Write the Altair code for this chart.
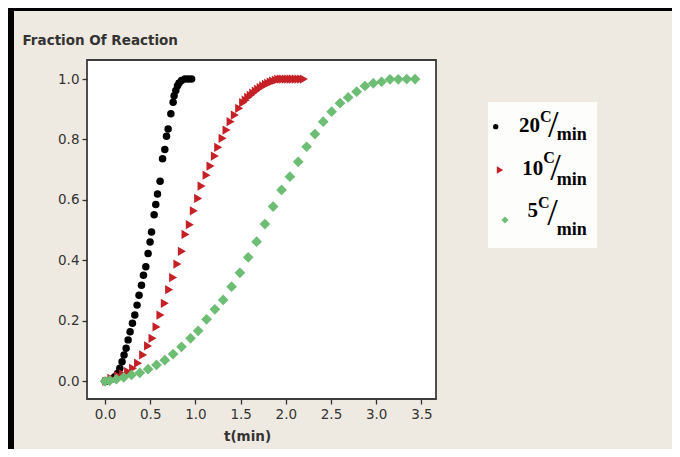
import altair as alt
import pandas as pd

# ---- data ----
t20 = [0.0, 0.01, 0.07, 0.107, 0.137, 0.163, 0.188, 0.21, 0.233, 0.255, 0.277, 0.303, 0.329,
       0.354, 0.376, 0.403, 0.425, 0.451, 0.476, 0.498, 0.514, 0.543, 0.561, 0.58, 0.609,
       0.636, 0.661, 0.68, 0.698, 0.728, 0.753, 0.764, 0.783, 0.802, 0.819, 0.846, 0.883,
       0.919, 0.957]
f20 = [0.0, 0.0, 0.007, 0.015, 0.026, 0.043, 0.065, 0.087, 0.109, 0.137, 0.164, 0.192, 0.219,
       0.252, 0.285, 0.318, 0.351, 0.379, 0.423, 0.461, 0.494, 0.551, 0.585, 0.62, 0.662,
       0.736, 0.767, 0.811, 0.835, 0.885, 0.923, 0.945, 0.962, 0.978, 0.987, 0.995, 1.0,
       1.0, 1.0]

t10 = [0.015, 0.07, 0.144, 0.2, 0.255, 0.31, 0.365, 0.421, 0.476, 0.525, 0.569, 0.613, 0.661,
       0.709, 0.753, 0.80, 0.85, 0.89, 0.938, 0.982, 1.03, 1.068, 1.123, 1.167, 1.215, 1.252,
       1.30, 1.344, 1.389, 1.436, 1.484, 1.528, 1.556, 1.584, 1.612, 1.639, 1.667, 1.694,
       1.722, 1.75, 1.78, 1.805, 1.833, 1.86, 1.89, 1.916, 1.945, 1.971, 2.0, 2.027, 2.055,
       2.08, 2.11, 2.14, 2.17, 2.2]
f10 = [0.0, 0.01, 0.018, 0.024, 0.032, 0.043, 0.06, 0.087, 0.117, 0.142, 0.18, 0.219, 0.258,
       0.303, 0.343, 0.388, 0.43, 0.486, 0.518, 0.564, 0.605, 0.646, 0.682, 0.712, 0.745,
       0.774, 0.804, 0.831, 0.859, 0.881, 0.903, 0.922, 0.93, 0.939, 0.946, 0.953, 0.96,
       0.966, 0.972, 0.977, 0.982, 0.986, 0.99, 0.993, 0.996, 0.999, 1.0, 1.0, 1.0, 1.0, 1.0,
       1.0, 1.0, 1.0, 1.0, 1.0]

t5 = [0.0, 0.052, 0.126, 0.207, 0.292, 0.384, 0.476, 0.569, 0.661, 0.753, 0.846, 0.946, 1.03,
      1.123, 1.215, 1.307, 1.40, 1.492, 1.584, 1.677, 1.769, 1.86, 1.953, 2.045, 2.137, 2.23,
      2.322, 2.414, 2.507, 2.6, 2.69, 2.784, 2.876, 2.968, 3.06, 3.153, 3.245, 3.338, 3.43]
f5 = [0.0, 0.002, 0.007, 0.013, 0.021, 0.028, 0.04, 0.054, 0.07, 0.09, 0.114, 0.142, 0.167,
      0.205, 0.238, 0.269, 0.313, 0.359, 0.41, 0.462, 0.52, 0.578, 0.633, 0.677, 0.726, 0.776,
      0.818, 0.859, 0.892, 0.92, 0.939, 0.958, 0.977, 0.986, 0.991, 0.999, 0.999, 1.0, 1.0]

series = ["20", "10", "5"]
colors = ["#000000", "#C42026", "#6DBE74"]
shapes = ["circle", "triangle-right", "diamond"]
sizes = [56, 115, 78]
x_ticks = [0.0, 0.5, 1.0, 1.5, 2.0, 2.5, 3.0, 3.5]
y_ticks = [0.0, 0.2, 0.4, 0.6, 0.8, 1.0]

rows = []
for i, (name, ts, fs) in enumerate(zip(series, [t20, t10, t5], [f20, f10, f5])):
    for t, f in zip(ts, fs):
        rows.append({"t": t, "f": f, "rate": name, "ord": i})
df = pd.DataFrame(rows)

W, H = 349, 339
BG = "#EFEAE1"
AXIS_FONT = "DejaVu Sans"

color_scale = alt.Scale(domain=series, range=colors)
shape_scale = alt.Scale(domain=series, range=shapes)
size_scale = alt.Scale(domain=series, range=sizes)

points = alt.Chart(df).mark_point(filled=True, opacity=1).encode(
    x=alt.X("t:Q",
            scale=alt.Scale(domain=[-0.2, 3.662], nice=False, zero=False),
            axis=alt.Axis(values=x_ticks, format=".1f", title="t(min)", domain=False,
                          grid=False, tickSize=5, tickColor="#333", tickWidth=1.3,
                          labelPadding=3,
                          labelFont=AXIS_FONT, labelFontSize=13.5, labelColor="#333",
                          titleFont=AXIS_FONT, titleFontSize=13.5, titleFontWeight="bold",
                          titleColor="#333", titleX=160, titleY=41,
                          titleBaseline="alphabetic")),
    y=alt.Y("f:Q",
            scale=alt.Scale(domain=[-0.0586, 1.063], nice=False, zero=False),
            axis=alt.Axis(values=y_ticks, format=".1f", title="Fraction Of Reaction",
                          domain=False, grid=False, tickSize=5, tickColor="#333",
                          tickWidth=1.3,
                          labelPadding=3, labelFont=AXIS_FONT, labelFontSize=13.5,
                          labelColor="#333", titleFont=AXIS_FONT, titleFontSize=13.5,
                          titleFontWeight="bold", titleColor="#333", titleAngle=0,
                          titleAlign="left", titleBaseline="alphabetic",
                          titleX=-65, titleY=-16)),
    color=alt.Color("rate:N", scale=color_scale, legend=None),
    shape=alt.Shape("rate:N", scale=shape_scale, legend=None),
    size=alt.Size("rate:N", scale=size_scale, legend=None),
    order=alt.Order("ord:Q"),
)

one = pd.DataFrame({"k": [0]})

# black edge of the screenshot
border_top = alt.Chart(one).mark_rect(color="black").encode(
    x=alt.value(-79), x2=alt.value(W + 236), y=alt.value(-52), y2=alt.value(-49))
border_left = alt.Chart(one).mark_rect(color="black").encode(
    x=alt.value(-79), x2=alt.value(-73), y=alt.value(-52), y2=alt.value(H + 50))

# custom legend (fraction-style labels)
legend_box = alt.Chart(one).mark_rect(color="#FDFDFB").encode(
    x=alt.value(401), x2=alt.value(510), y=alt.value(42), y2=alt.value(188))

entries = [
    # symbol x, symbol y, number right, number base, C base, slash x, slash y, min x, min base, symbol size
    (408.7, 66.7, 453.0, 71.7, 61.7, 466.3, 65.5, 469.7, 80.0, 28),
    (413.0, 110.0, 456.3, 115.0, 103.3, 468.5, 108.5, 469.7, 125.0, 55),
    (418.0, 160.0, 451.0, 156.7, 148.0, 465.5, 153.5, 469.7, 175.0, 50),
]

legend_layers = [legend_box]
for name, e in zip(series, entries):
    sx, sy, nx, nb, cb, slx, sly, mx, mb, ss = e
    d = pd.DataFrame({"rate": [name]})
    legend_layers.append(
        alt.Chart(d).mark_point(filled=True, size=ss, opacity=1).encode(
            x=alt.value(sx), y=alt.value(sy),
            color=alt.Color("rate:N", scale=color_scale, legend=None),
            shape=alt.Shape("rate:N", scale=shape_scale, legend=None)))
    legend_layers.append(
        alt.Chart(d).mark_text(font="Liberation Serif", fontSize=21, fontWeight="bold",
                               align="right", baseline="alphabetic", color="black").encode(
            x=alt.value(nx), y=alt.value(nb), text="rate:N"))
    legend_layers.append(
        alt.Chart(d).mark_text(font="Liberation Serif", fontSize=16, fontWeight="bold",
                               align="left", baseline="alphabetic", color="black").encode(
            x=alt.value(nx), y=alt.value(cb), text=alt.value("C")))
    legend_layers.append(
        alt.Chart(d).mark_text(font="Liberation Serif", fontSize=38, align="center",
                               baseline="middle", color="black").encode(
            x=alt.value(slx), y=alt.value(sly), text=alt.value("/")))
    legend_layers.append(
        alt.Chart(d).mark_text(font="Liberation Serif", fontSize=18, fontWeight="bold",
                               align="left", baseline="alphabetic", color="black").encode(
            x=alt.value(mx), y=alt.value(mb), text=alt.value("min")))

chart = alt.layer(border_top, border_left, points, *legend_layers).properties(
    width=W, height=H,
    autosize=alt.AutoSizeParams(type="none"),
    padding={"left": 79, "top": 52, "right": 236, "bottom": 50},
    background=BG,
).configure_view(
    fill="white", stroke="#3c3c3c", strokeWidth=1.8
)

chart.save("out.html", embed_options={"renderer": "svg", "actions": False})
